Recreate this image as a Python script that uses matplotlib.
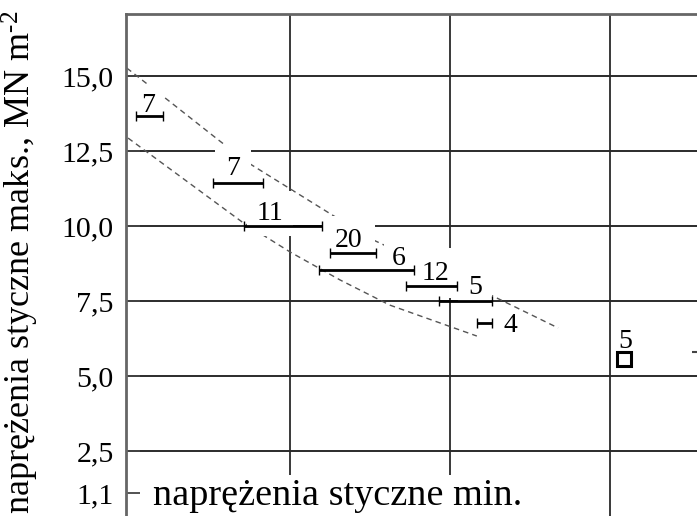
import matplotlib
matplotlib.use('Agg')
import matplotlib.pyplot as plt

plt.rcParams['font.family'] = ['Liberation Serif', 'DejaVu Serif']
plt.rcParams['mathtext.fontset'] = 'custom'
plt.rcParams['mathtext.rm'] = 'Liberation Serif'
plt.rcParams['mathtext.default'] = 'regular'

# ---------------- data ----------------
y_ticks = [1.1, 2.5, 5.0, 7.5, 10.0, 12.5, 15.0]
y_tick_labels = ['1,1', '2,5', '5,0', '7,5', '10,0', '12,5', '15,0']
grid_y = [2.5, 5.0, 7.5, 10.0, 12.5, 15.0]
grid_x = [2.5, 5.0, 7.5]

# ranges of min. shear stress (horizontal bars) vs max. shear stress
tau_min_lo = [0.094, 1.297, 1.781, 3.125, 2.953, 4.313, 4.828, 5.422]
tau_min_hi = [0.516, 2.078, 3.000, 3.844, 4.438, 5.109, 5.656, 5.656]
tau_max = [13.67, 11.43, 10.0, 9.10, 8.54, 8.01, 7.5, 6.77]
counts = ['7', '7', '11', '20', '6', '12', '5', '4']

square_x = [7.72]
square_y = [5.58]
square_count = ['5']

edge_lo = [8.78]
edge_hi = [9.40]
edge_y = [5.81]

upper_x = [-0.05, 0.63, 1.38, 1.83, 3.16, 3.80, 5.70, 6.69]
upper_y = [15.26, 14.13, 12.87, 12.13, 10.37, 9.54, 7.64, 6.61]
lower_x = [-0.03, 1.75, 2.50, 3.28, 4.06, 5.42]
lower_y = [12.93, 10.14, 9.14, 8.21, 7.37, 6.34]

x_label = 'naprężenia styczne min.'
y_label = 'naprężenia styczne maks., MN m$^{\u2010 2}$'

# ---------------- layout ----------------
W, H = 697, 516
fig = plt.figure(figsize=(W / 100, H / 100), dpi=100)
ax = fig.add_axes([126 / W, 0, 1 - 126 / W, (H - 14) / H])
ax.set_xlim(-0.0625, 8.86)
ax.set_ylim(0.35, 17.06)

# label offsets in pixels (dx, baseline dy) and box pads
label_off = [(-1.5, 4), (-5, 8), (-13, 6), (-4, 6), (32.5, 5), (4.5, 6), (9.5, 7), (25.5, -9)]
label_pad = [0.3, 0.4, 0.35, 0.45, 0.3, 0.45, 0.35, 0.05]

for v in grid_y:
    ax.axhline(v, color='#1a1a1a', lw=1.3, zorder=1)
for v in grid_x:
    ax.axvline(v, color='#2a2a2a', lw=1.3, zorder=1)

ax.plot(upper_x, upper_y, color='#555555', lw=1.0, dashes=(4, 3), zorder=2)
ax.plot(lower_x, lower_y, color='#555555', lw=1.0, dashes=(4, 3), zorder=2)

centers = [(a + b) / 2 for a, b in zip(tau_min_lo, tau_min_hi)]
halfs = [(b - a) / 2 for a, b in zip(tau_min_lo, tau_min_hi)]
ax.errorbar(centers, tau_max, xerr=halfs, fmt='none', ecolor='black',
            elinewidth=2.0, capsize=3.5, capthick=1.0, zorder=5)

for xc, yv, c, (dx, dy), pd in zip(centers, tau_max, counts, label_off, label_pad):
    ax.annotate(c, (xc, yv), xytext=(dx, dy), textcoords='offset pixels',
                ha='center', va='baseline', fontsize=20, zorder=4,
                bbox=dict(boxstyle=f'square,pad={pd}', fc='white', ec='none'))

ax.plot(square_x, square_y, marker='s', ms=9.5, mfc='white', mec='black',
        mew=2.2, ls='none', zorder=5)
for xs, ys, c in zip(square_x, square_y, square_count):
    ax.annotate(c, (xs, ys), xytext=(1, 11), textcoords='offset pixels',
                ha='center', va='baseline', fontsize=20, zorder=4)

ax.hlines(edge_y, edge_lo, edge_hi, color='#444444', lw=1.5, zorder=5)

ax.set_yticks(y_ticks)
ax.set_yticklabels(y_tick_labels)
ax.set_xticks([])
ax.tick_params(axis='y', direction='in', length=10, width=1.3, color='#444444',
               pad=9, labelsize=21.5)

for s in ['right', 'bottom']:
    ax.spines[s].set_visible(False)
ax.spines['left'].set_color('#666666')
ax.spines['left'].set_linewidth(2)
ax.spines['top'].set_color('#666666')
ax.spines['top'].set_linewidth(2)

fig.text(153 / W, 1 - 505 / H, x_label, fontsize=27.5,
         ha='left', va='baseline', zorder=10,
         bbox=dict(boxstyle='square,pad=0.1', fc='white', ec='none'))

fig.text(20 / W, 1 - 11 / H, y_label,
         rotation=90, ha='center', va='top', fontsize=26)

fig.savefig('out.png', dpi=100)
